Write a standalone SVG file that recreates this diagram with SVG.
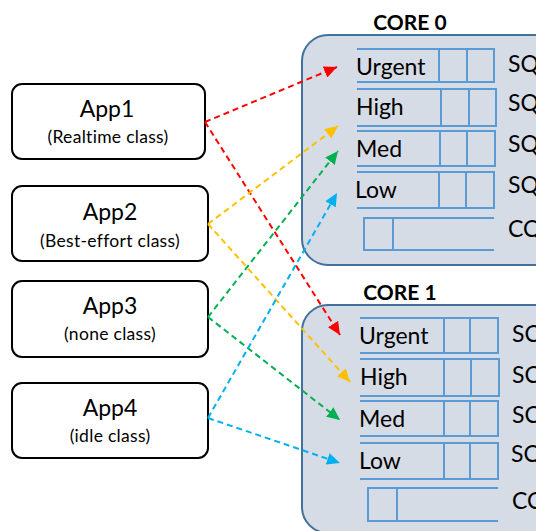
<svg xmlns="http://www.w3.org/2000/svg" width="536" height="531" viewBox="0 0 536 531">
<style>
.app{fill:#fff;stroke:#000;stroke-width:2}
.core{fill:#D6DCE5;stroke:#41719C;stroke-width:2}
.q{fill:none;stroke:#5B9BD5;stroke-width:2}
.t{font-family:Lato,"Liberation Sans",sans-serif;fill:#000}
.lbl{font-size:23px}
.big{font-size:23px;text-anchor:middle}
.sm{font-size:17.5px;text-anchor:middle;letter-spacing:0.3px}
.ttl{font-size:21px;font-weight:bold;text-anchor:middle}
.c{fill:none;stroke-width:2;stroke-dasharray:6 4}
</style>
<defs>
<marker id="ar" markerUnits="userSpaceOnUse" markerWidth="14" markerHeight="12" refX="13" refY="6" orient="auto"><path d="M0,0 L13,6 L0,12 z" fill="#FF0000"/></marker>
<marker id="ay" markerUnits="userSpaceOnUse" markerWidth="14" markerHeight="12" refX="13" refY="6" orient="auto"><path d="M0,0 L13,6 L0,12 z" fill="#FFC000"/></marker>
<marker id="ag" markerUnits="userSpaceOnUse" markerWidth="14" markerHeight="12" refX="13" refY="6" orient="auto"><path d="M0,0 L13,6 L0,12 z" fill="#00B050"/></marker>
<marker id="ab" markerUnits="userSpaceOnUse" markerWidth="14" markerHeight="12" refX="13" refY="6" orient="auto"><path d="M0,0 L13,6 L0,12 z" fill="#00B0F0"/></marker>
</defs>

<g id="core0">
<rect class="core" x="302" y="35" width="270" height="230" rx="26"/>
<text class="t ttl" x="410" y="30">CORE 0</text>
<path class="q" d="M357 49H494V82H357M439 49V82M467 49V82"/>
<path class="q" d="M357 89H496V126H357M441 89V126M469 89V126"/>
<path class="q" d="M357 131H495V166H357M440 131V166M467 131V166"/>
<path class="q" d="M357 172H494V208H357M439 172V208M466 172V208"/>
<path class="q" d="M494 218H364V250H494M393 218V250"/>
<text class="t lbl" x="356" y="75">Urgent</text>
<text class="t lbl" x="356" y="115">High</text>
<text class="t lbl" x="356" y="157">Med</text>
<text class="t lbl" x="355" y="198">Low</text>
<text class="t lbl" x="508" y="72">SQ</text>
<text class="t lbl" x="508" y="111">SQ</text>
<text class="t lbl" x="508" y="152">SQ</text>
<text class="t lbl" x="508" y="193">SQ</text>
<text class="t lbl" x="508" y="237">CQ</text>
</g>

<g id="core1">
<rect class="core" x="302" y="305" width="270" height="228" rx="26"/>
<text class="t ttl" x="400" y="300">CORE 1</text>
<path class="q" d="M360 318H498V353H360M444 318V353M470 318V353"/>
<path class="q" d="M360 359H499V396H360M444 359V396M471 359V396"/>
<path class="q" d="M360 401H498V436H360M444 401V436M470 401V436"/>
<path class="q" d="M360 443H498V479H360M444 443V479M470 443V479"/>
<path class="q" d="M498 488H368V521H498M397 488V521"/>
<text class="t lbl" x="359" y="344">Urgent</text>
<text class="t lbl" x="360" y="385">High</text>
<text class="t lbl" x="359" y="427">Med</text>
<text class="t lbl" x="359" y="469">Low</text>
<text class="t lbl" x="512" y="342">SQ</text>
<text class="t lbl" x="512" y="383">SQ</text>
<text class="t lbl" x="512" y="423">SQ</text>
<text class="t lbl" x="511" y="462">SQ</text>
<text class="t lbl" x="512" y="509">CQ</text>
</g>

<g id="app1">
<rect class="app" x="12" y="84" width="193" height="75" rx="10"/>
<text class="t big" x="107" y="117">App1</text>
<text class="t sm" x="108" y="143">(Realtime  class)</text>
</g>
<g id="app2">
<rect class="app" x="12" y="186" width="196" height="75" rx="10"/>
<text class="t big" x="110" y="220">App2</text>
<text class="t sm" x="110" y="247">(Best-effort class)</text>
</g>
<g id="app3">
<rect class="app" x="12" y="281" width="196" height="76" rx="10"/>
<text class="t big" x="110" y="314">App3</text>
<text class="t sm" x="110" y="340">(none class)</text>
</g>
<g id="app4">
<rect class="app" x="12" y="383" width="196" height="75" rx="10"/>
<text class="t big" x="110" y="416">App4</text>
<text class="t sm" x="110" y="442">(idle class)</text>
</g>

<g id="connectors">
<path class="c" stroke="#FF0000" marker-end="url(#ar)" d="M205 122L337 67"/>
<path class="c" stroke="#FF0000" marker-end="url(#ar)" d="M205 122L340 335"/>
<path class="c" stroke="#FFC000" marker-end="url(#ay)" d="M208 224L338 126"/>
<path class="c" stroke="#FFC000" marker-end="url(#ay)" d="M208 224L350 382"/>
<path class="c" stroke="#00B050" marker-end="url(#ag)" d="M208 317L338 151"/>
<path class="c" stroke="#00B050" marker-end="url(#ag)" d="M208 317L340 420"/>
<path class="c" stroke="#00B0F0" marker-end="url(#ab)" d="M208 418L337 193"/>
<path class="c" stroke="#00B0F0" marker-end="url(#ab)" d="M208 418L340 463"/>
</g>
</svg>
